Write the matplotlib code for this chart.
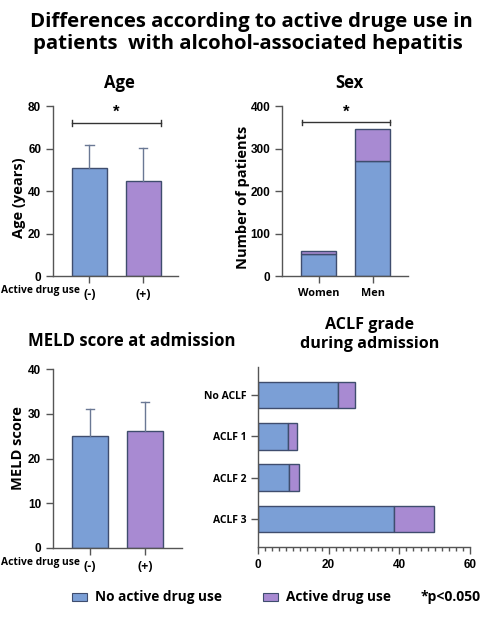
"""Active drug use vs. alcohol-associated hepatitis: four-panel summary figure."""

import matplotlib
matplotlib.use("Agg")
import matplotlib.pyplot as plt
from matplotlib.patches import Rectangle
from matplotlib.ticker import MultipleLocator

# --- data -------------------------------------------------------------------
groups = ["(-)", "(+)"]
age_mean = [51.0, 44.5]
age_sd_top = [61.5, 60.3]
meld_mean = [25.0, 26.2]
meld_sd_top = [31.0, 32.7]

sex_labels = ["Women", "Men"]
sex_no_drug = [52, 270]
sex_drug = [6, 75]

aclf_labels = ["No ACLF", "ACLF 1", "ACLF 2", "ACLF 3"]
aclf_no_drug = [22.5, 8.5, 8.8, 38.6]
aclf_drug = [5.0, 2.5, 2.7, 11.2]

BLUE = "#7b9fd6"
PURPLE = "#a88ad2"
EDGE = "#3f4d6e"
AXC = "#555555"
TITLE_FONT = "Open Sans"
TICK_FONT = "Liberation Sans"

W, H = 487, 619
fig = plt.figure(figsize=(W / 100, H / 100), dpi=100)


def fx(px):
    return px / W


def fy(py):
    return 1 - py / H


def add_axes(left, top, right, bottom):
    return fig.add_axes([fx(left), fy(bottom), fx(right - left), (bottom - top) / H])


def style(ax, horizontal=False):
    for side in ("top", "right"):
        ax.spines[side].set_visible(False)
    for side in ("left", "bottom"):
        ax.spines[side].set_color(AXC)
        ax.spines[side].set_linewidth(1.0)
    ax.tick_params(color=AXC, labelcolor="black", length=5, width=1.0)
    nums = ax.get_xticklabels() if horizontal else ax.get_yticklabels()
    for lab in nums:
        lab.set_fontfamily(TICK_FONT)
        lab.set_fontweight("bold")
        lab.set_fontsize(8.5)


def sig_bracket(ax, x0, x1, y, ystar):
    ax.plot([x0, x1], [y, y], color="#333333", lw=1.0)
    yr = ax.get_ylim()[1]
    for x in (x0, x1):
        ax.plot([x, x], [y - yr * 0.015, y + yr * 0.015], color="#333333", lw=1.0)
    ax.text((x0 + x1) / 2, ystar, "*", ha="center", va="center", fontsize=12,
            fontweight="bold", family=TICK_FONT)


def bar_panel(ax, means, tops, ymax, step):
    x = range(len(means))
    ax.bar(x, means, width=0.65, color=[BLUE, PURPLE], edgecolor=EDGE, linewidth=1.0)
    for xi, m, t in zip(x, means, tops):
        ax.plot([xi, xi], [m, t], color="#6a7894", lw=1.0)
        ax.plot([xi - 0.08, xi + 0.08], [t, t], color="#6a7894", lw=1.0)
    ax.set_xlim(-0.676, 1.65)
    ax.set_ylim(0, ymax)
    ax.set_yticks(range(0, ymax + 1, step))
    ax.set_xticks(list(x))
    ax.set_xticklabels(groups, fontfamily=TITLE_FONT, fontweight="bold", fontsize=8.8)
    style(ax)


# --- Age --------------------------------------------------------------------
ax_age = add_axes(53, 106, 178, 276)
bar_panel(ax_age, age_mean, age_sd_top, 80, 20)
sig_bracket(ax_age, -0.33, 1.33, 72, 77)

# --- Sex --------------------------------------------------------------------
ax_sex = add_axes(282, 106, 408, 276)
ax_sex.bar(range(2), sex_no_drug, width=0.65, color=BLUE, edgecolor=EDGE, linewidth=1.0)
ax_sex.bar(range(2), sex_drug, bottom=sex_no_drug, width=0.65, color=PURPLE,
           edgecolor=EDGE, linewidth=1.0)
ax_sex.set_xlim(-0.676, 1.657)
ax_sex.set_ylim(0, 400)
ax_sex.set_yticks(range(0, 401, 100))
ax_sex.set_xticks(range(2))
ax_sex.set_xticklabels(sex_labels, fontfamily=TITLE_FONT, fontweight="bold", fontsize=7.8)
style(ax_sex)
sig_bracket(ax_sex, -0.3, 1.33, 362, 385)

# --- MELD -------------------------------------------------------------------
ax_meld = add_axes(53, 369, 182, 548)
bar_panel(ax_meld, meld_mean, meld_sd_top, 40, 10)
ax_meld.set_xlim(-0.67, 1.67)

# --- ACLF -------------------------------------------------------------------
ax_aclf = add_axes(258, 367, 470, 547)
ypos = range(len(aclf_labels))
ax_aclf.barh(ypos, aclf_no_drug, height=0.65, color=BLUE, edgecolor=EDGE, linewidth=1.0)
ax_aclf.barh(ypos, aclf_drug, left=aclf_no_drug, height=0.65, color=PURPLE,
             edgecolor=EDGE, linewidth=1.0)
ax_aclf.set_ylim(3.68, -0.68)
ax_aclf.set_xlim(0, 60)
ax_aclf.set_xticks([0, 20, 40, 60])
ax_aclf.xaxis.set_minor_locator(MultipleLocator(2))
ax_aclf.set_yticks(list(ypos))
ax_aclf.set_yticklabels(aclf_labels, fontfamily=TITLE_FONT, fontweight="bold", fontsize=7.5)
style(ax_aclf, horizontal=True)
ax_aclf.tick_params(axis="x", which="minor", length=3, width=1.0, color=AXC)

# --- text -------------------------------------------------------------------
tkw = dict(family=TITLE_FONT, fontweight="bold", ha="center", va="center")
fig.text(fx(251), fy(22), "Differences according to active druge use in", fontsize=14.7, **tkw)
fig.text(fx(248), fy(44), "patients  with alcohol-associated hepatitis", fontsize=14.7, **tkw)
fig.text(fx(119), fy(83), "Age", fontsize=12, **tkw)
fig.text(fx(349), fy(83), "Sex", fontsize=12, **tkw)
fig.text(fx(132), fy(341), "MELD score at admission", fontsize=12.1, **tkw)
fig.text(fx(370), fy(325), "ACLF grade", fontsize=11.6, **tkw)
fig.text(fx(370), fy(344), "during admission", fontsize=11.6, **tkw)

fig.text(fx(19), fy(198), "Age (years)", fontsize=10.5, rotation=90, **tkw)
fig.text(fx(243), fy(197), "Number of patients", fontsize=10.5, rotation=90, **tkw)
fig.text(fx(18), fy(448), "MELD score", fontsize=10.5, rotation=90, **tkw)

for yy in (290, 562):
    fig.text(fx(1), fy(yy), "Active drug use", fontsize=7.4, family=TITLE_FONT,
             fontweight="bold", ha="left", va="center")

# legend
for x0, color, label in ((72, BLUE, "No active drug use"), (263, PURPLE, "Active drug use")):
    fig.patches.append(Rectangle((fx(x0), fy(601)), fx(15), 8 / H, transform=fig.transFigure,
                                 facecolor=color, edgecolor=EDGE, linewidth=0.8))
    fig.text(fx(x0 + 23), fy(597), label, fontsize=9.8, family=TITLE_FONT,
             fontweight="bold", ha="left", va="center")
fig.text(fx(481), fy(597), "*p<0.050", fontsize=10, family=TITLE_FONT,
         fontweight="bold", ha="right", va="center")

fig.savefig("out.png", dpi=100)
